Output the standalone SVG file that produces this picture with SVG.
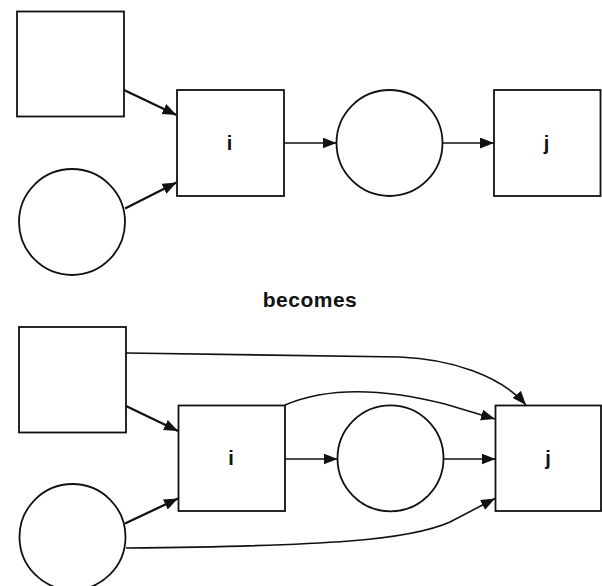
<svg xmlns="http://www.w3.org/2000/svg" width="602" height="586" viewBox="0 0 602 586">
<defs>
<style>
.node{fill:#fff;stroke:#111;stroke-width:1.8}
.edge{fill:none;stroke:#111;stroke-width:1.6}
.diag{stroke-width:2.3}
.flat{stroke-width:1.4}
.lbl{font-family:"Liberation Sans",Arial,sans-serif;font-size:20px;font-weight:bold;fill:#111;text-anchor:middle}
.title{font-family:"Liberation Sans",Arial,sans-serif;font-size:21px;font-weight:bold;fill:#111;text-anchor:middle;letter-spacing:0.5px}
</style>
<marker id="ah" markerUnits="userSpaceOnUse" markerWidth="15" markerHeight="12" refX="14" refY="5.5" orient="auto">
<path d="M0,0 L14,5.5 L0,11 z" fill="#111"/>
</marker>
</defs>
<rect width="602" height="586" fill="#fff"/>
<g id="top-src-rect"><rect class="node" x="17" y="11.5" width="107" height="105"/></g>
<g id="top-src-circle"><circle class="node" cx="72" cy="222" r="53"/></g>
<g id="top-i"><rect class="node" x="177" y="90" width="107" height="106"/><text class="lbl" x="229.5" y="150">i</text></g>
<g id="top-mid-circle"><circle class="node" cx="389.5" cy="143" r="53"/></g>
<g id="top-j"><rect class="node" x="494" y="90" width="106.5" height="106"/><text class="lbl" x="546.5" y="150">j</text></g>
<g id="caption"><text class="title" x="310" y="307">becomes</text></g>
<g id="bot-src-rect"><rect class="node" x="19" y="327" width="107" height="105.5"/></g>
<g id="bot-src-circle"><circle class="node" cx="72.5" cy="537" r="53"/></g>
<g id="bot-i"><rect class="node" x="178.5" y="405.5" width="106.5" height="105.5"/><text class="lbl" x="231" y="465">i</text></g>
<g id="bot-mid-circle"><circle class="node" cx="390.5" cy="458.3" r="53"/></g>
<g id="bot-j"><rect class="node" x="495.5" y="405.5" width="105.5" height="105.5"/><text class="lbl" x="548" y="465">j</text></g>
<g id="connectors">
<path class="edge diag" d="M124,90 L176.5,115" marker-end="url(#ah)"/>
<path class="edge diag" d="M125,208.5 L176.5,182.5" marker-end="url(#ah)"/>
<path class="edge flat" d="M284,143 L336.5,143" marker-end="url(#ah)"/>
<path class="edge flat" d="M442.5,143 L494,143" marker-end="url(#ah)"/>
<path class="edge diag" d="M126,406 L178,431" marker-end="url(#ah)"/>
<path class="edge diag" d="M125,523.5 L178,498.5" marker-end="url(#ah)"/>
<path class="edge flat" d="M285,459 L337.5,459" marker-end="url(#ah)"/>
<path class="edge flat" d="M443.5,459 L495.5,459" marker-end="url(#ah)"/>
<path class="edge" d="M126,353 L400,357 C450,359 500,375 526,405" marker-end="url(#ah)"/>
<path class="edge" d="M285,405 C320,390 370,385 445,404 L495,419" marker-end="url(#ah)"/>
<path class="edge" d="M126,548 C330,546 410,540 450,522 L495,498.5" marker-end="url(#ah)"/>
</g>
</svg>
